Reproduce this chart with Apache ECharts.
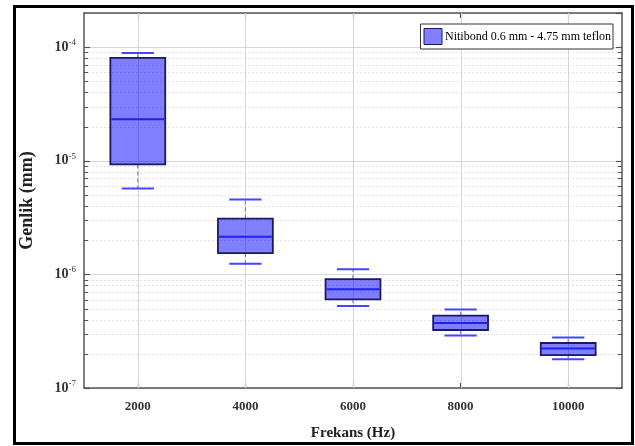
<!DOCTYPE html>
<html>
<head>
<meta charset="utf-8">
<script src="https://cdn.jsdelivr.net/npm/echarts@6/dist/echarts.min.js"></script>
<style>
html,body{margin:0;padding:0;background:#fff;}
#c{width:635px;height:446px;}
</style>
</head>
<body>
<div id="c"></div>
<script>
// ---- data ----
const categories = ['2000', '4000', '6000', '8000', '10000'];
const whiskerLow  = [5.7e-6, 1.24e-6, 5.26e-7, 2.90e-7, 1.79e-7];
const q1          = [9.3e-6, 1.54e-6, 6.03e-7, 3.24e-7, 1.95e-7];
const median      = [2.32e-5, 2.14e-6, 7.40e-7, 3.73e-7, 2.23e-7];
const q3          = [8.07e-5, 3.10e-6, 9.10e-7, 4.33e-7, 2.49e-7];
const whiskerHigh = [8.9e-5, 4.56e-6, 1.11e-6, 4.92e-7, 2.79e-7];
const seriesName = 'Nitibond 0.6 mm - 4.75 mm teflon';
const yMin = 1e-7, yMax = 2e-4;
const minorGridValues = [
  2e-7,3e-7,4e-7,5e-7,6e-7,7e-7,8e-7,9e-7,
  2e-6,3e-6,4e-6,5e-6,6e-6,7e-6,8e-6,9e-6,
  2e-5,3e-5,4e-5,5e-5,6e-5,7e-5,8e-5,9e-5
];

const FONT = '"Liberation Serif", "Times New Roman", serif';
const boxData = categories.map((c, i) => [i, whiskerLow[i], q1[i], median[i], q3[i], whiskerHigh[i]]);

const chart = echarts.init(document.getElementById('c'), null, {renderer: 'canvas'});

function yLabel(v) {
  const e = Math.round(Math.log10(v));
  return '{b|10}{s|' + e + '}';
}

const option = {
  backgroundColor: '#fff',
  animation: false,
  grid: {left: 84, top: 13, width: 538, height: 375, containLabel: false},
  legend: {
    show: true,
    data: [{name: seriesName, icon: 'rect', itemStyle: {color: '#8080ff', borderColor: '#1a1a60', borderWidth: 1}}],
    right: 22, top: 24,
    orient: 'horizontal',
    backgroundColor: '#fff',
    borderColor: '#333', borderWidth: 1, borderRadius: 0,
    padding: [4, 2, 4, 3],
    itemWidth: 18, itemHeight: 16, itemGap: 4,
    selectedMode: false,
    textStyle: {fontFamily: FONT, fontSize: 12, color: '#000', padding: [0,0,0,-2]}
  },
  xAxis: [{
    type: 'category', data: categories, position: 'bottom',
    boundaryGap: true,
    name: 'Frekans (Hz)', nameLocation: 'middle', nameGap: 38,
    nameTextStyle: {fontFamily: FONT, fontSize: 15, fontWeight: 'bold', color: '#222'},
    axisLine: {show: true, lineStyle: {color: '#555', width: 1.5}},
    axisTick: {show: true, inside: true, alignWithLabel: true, length: 5, lineStyle: {color: '#555', width: 1.2}},
    axisLabel: {fontFamily: FONT, fontSize: 13, fontWeight: 'bold', color: '#333', margin: 12},
    splitLine: {show: false}
  }, {
    type: 'category', data: categories, position: 'top',
    boundaryGap: true,
    axisLine: {show: true, lineStyle: {color: '#555', width: 1.5}},
    axisTick: {show: true, inside: true, alignWithLabel: true, length: 5, lineStyle: {color: '#555', width: 1.2}},
    axisLabel: {show: false},
    splitLine: {show: false}
  }],
  yAxis: [{
    type: 'log', logBase: 10, min: yMin, max: yMax, position: 'left',
    name: 'Genlik (mm)', nameLocation: 'middle', nameGap: 48, nameRotate: 90,
    nameTextStyle: {fontFamily: FONT, fontSize: 18, fontWeight: 'bold', color: '#222'},
    axisLine: {show: true, lineStyle: {color: '#555', width: 1.5}},
    axisTick: {show: true, inside: true, length: 6, lineStyle: {color: '#555', width: 1.2}},
    axisLabel: {
      showMaxLabel: false, margin: 8,
      formatter: yLabel,
      rich: {
        b: {fontFamily: FONT, fontSize: 14, fontWeight: 'bold', color: '#333'},
        s: {fontFamily: FONT, fontSize: 9, color: '#333', verticalAlign: 'top', padding: [0, 0, 9, 0]}
      }
    },
    splitLine: {show: true, lineStyle: {color: '#d6d6d6', width: 1}}
  }, {
    type: 'log', logBase: 10, min: yMin, max: yMax, position: 'right',
    axisLine: {show: true, lineStyle: {color: '#555', width: 1.5}},
    axisTick: {show: true, inside: true, length: 6, lineStyle: {color: '#555', width: 1.2}},
    axisLabel: {show: false},
    splitLine: {show: false}
  }],
  series: [
    {
      // minor log grid lines and minor ticks
      type: 'custom', name: 'minorGrid', silent: true, z: 1,
      xAxisIndex: 0, yAxisIndex: 0,
      data: minorGridValues.map(v => [0, v]),
      encode: {x: 0, y: 1},
      renderItem: function (params, api) {
        const cs = params.coordSys;
        const y = Math.round(api.coord([0, api.value(1)])[1]) + 0.5;
        return {
          type: 'group',
          children: [
            {type: 'line', shape: {x1: cs.x, y1: y, x2: cs.x + cs.width, y2: y},
             style: {stroke: '#e2e2e2', lineWidth: 1, lineDash: [2, 2]}},
            {type: 'line', shape: {x1: cs.x, y1: y, x2: cs.x + 4, y2: y},
             style: {stroke: '#555', lineWidth: 1}},
            {type: 'line', shape: {x1: cs.x + cs.width - 4, y1: y, x2: cs.x + cs.width, y2: y},
             style: {stroke: '#555', lineWidth: 1}}
          ]
        };
      }
    },
    {
      // vertical grid lines at category centres
      type: 'custom', name: 'vGrid', silent: true, z: 1,
      xAxisIndex: 0, yAxisIndex: 0,
      data: categories.map((c, i) => [i, yMin]),
      encode: {x: 0, y: 1},
      renderItem: function (params, api) {
        const cs = params.coordSys;
        const x = Math.round(api.coord([api.value(0), yMin])[0]) + 0.5;
        return {type: 'line', shape: {x1: x, y1: cs.y, x2: x, y2: cs.y + cs.height},
                style: {stroke: '#d6d6d6', lineWidth: 1}};
      }
    },
    {
      type: 'custom', name: seriesName, z: 3,
      xAxisIndex: 0, yAxisIndex: 0,
      itemStyle: {color: '#8080ff', borderColor: '#1a1a60'},
      data: boxData,
      encode: {x: 0, y: [1, 2, 3, 4, 5]},
      renderItem: function (params, api) {
        const i = api.value(0);
        const pLow = api.coord([i, api.value(1)]);
        const pQ1 = api.coord([i, api.value(2)]);
        const pMed = api.coord([i, api.value(3)]);
        const pQ3 = api.coord([i, api.value(4)]);
        const pHigh = api.coord([i, api.value(5)]);
        const band = api.size([1, 0])[0];
        const bw = band * 0.51;
        const cw = band * 0.30;
        const cx = pMed[0];
        return {
          type: 'group',
          children: [
            {type: 'line', shape: {x1: cx, y1: pQ3[1], x2: cx, y2: pHigh[1]},
             style: {stroke: '#7a7aff', lineWidth: 1.2, lineDash: [4, 3]}},
            {type: 'line', shape: {x1: cx, y1: pQ1[1], x2: cx, y2: pLow[1]},
             style: {stroke: '#7a7aff', lineWidth: 1.2, lineDash: [4, 3]}},
            {type: 'line', shape: {x1: cx - cw / 2, y1: pHigh[1], x2: cx + cw / 2, y2: pHigh[1]},
             style: {stroke: '#4545ff', lineWidth: 2}},
            {type: 'line', shape: {x1: cx - cw / 2, y1: pLow[1], x2: cx + cw / 2, y2: pLow[1]},
             style: {stroke: '#4545ff', lineWidth: 2}},
            {type: 'rect', shape: {x: cx - bw / 2, y: pQ3[1], width: bw, height: pQ1[1] - pQ3[1]},
             style: {fill: 'rgba(0,0,255,0.5)', stroke: '#1a1a60', lineWidth: 1.8}},
            {type: 'line', shape: {x1: cx - bw / 2 + 1, y1: pMed[1], x2: cx + bw / 2 - 1, y2: pMed[1]},
             style: {stroke: '#2020f0', lineWidth: 2}}
          ]
        };
      }
    }
  ],
  graphic: [{
    type: 'rect', left: 12, top: 4, silent: true, z: 100,
    shape: {width: 618, height: 437},
    style: {fill: 'none', stroke: '#000', lineWidth: 3}
  }]
};
chart.setOption(option);
</script>
</body>
</html>
